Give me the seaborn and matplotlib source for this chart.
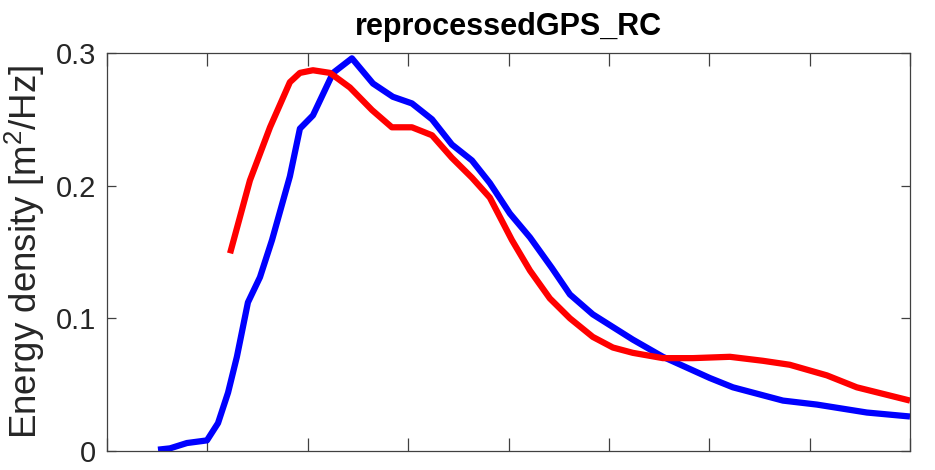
import numpy as np
import pandas as pd
import matplotlib
matplotlib.use("Agg")
import matplotlib.pyplot as plt
import seaborn as sns

# ---- data (frequency [Hz], energy density [m^2/Hz]) ----
blue_freq = [0.0254, 0.0314, 0.0398, 0.0498, 0.0553, 0.0603, 0.0647, 0.0702, 0.0762,
             0.0822, 0.0911, 0.0961, 0.1026, 0.1126, 0.1220, 0.1325, 0.1424, 0.1519,
             0.1619, 0.1718, 0.1818, 0.1907, 0.2007, 0.2107, 0.2216, 0.2306, 0.2420,
             0.2619, 0.2769, 0.3003, 0.3118, 0.3367, 0.3536, 0.3785, 0.4000]
blue_energy = [0.001, 0.002, 0.006, 0.008, 0.021, 0.044, 0.071, 0.112, 0.131,
               0.159, 0.207, 0.243, 0.253, 0.285, 0.296, 0.277, 0.267, 0.262,
               0.250, 0.231, 0.219, 0.202, 0.179, 0.161, 0.138, 0.118, 0.103,
               0.084, 0.071, 0.055, 0.048, 0.038, 0.035, 0.029, 0.026]

red_freq = [0.0613, 0.0712, 0.0812, 0.0911, 0.0961, 0.1026, 0.1111, 0.1210, 0.1320,
            0.1419, 0.1519, 0.1619, 0.1718, 0.1818, 0.1907, 0.2017, 0.2107, 0.2206,
            0.2306, 0.2420, 0.2520, 0.2619, 0.2769, 0.2918, 0.3103, 0.3267, 0.3401,
            0.3586, 0.3735, 0.4000]
red_energy = [0.149, 0.204, 0.244, 0.278, 0.285, 0.287, 0.285, 0.274, 0.257,
              0.244, 0.244, 0.238, 0.221, 0.206, 0.191, 0.159, 0.136, 0.115,
              0.100, 0.086, 0.078, 0.074, 0.070, 0.070, 0.071, 0.068, 0.065,
              0.057, 0.048, 0.038]

x_ticks = [0.0, 0.05, 0.10, 0.15, 0.20, 0.25, 0.30, 0.35, 0.40]
y_ticks = [0.0, 0.1, 0.2, 0.3]
y_tick_labels = ["0", "0.1", "0.2", "0.3"]

title_text = "reprocessedGPS_RC"
ylabel_text = r"Energy density [m$^2$/Hz]"

# ---- style ----
sns.set_style("white")
plt.rcParams["font.family"] = ["Liberation Sans", "DejaVu Sans"]
plt.rcParams["mathtext.fontset"] = "custom"
plt.rcParams["mathtext.rm"] = "Liberation Sans"
plt.rcParams["mathtext.it"] = "Liberation Sans"
plt.rcParams["text.color"] = "black"

fig = plt.figure(figsize=(9.35, 4.70), dpi=100)
ax = fig.add_axes([107 / 935, 19 / 470, (910 - 107) / 935, (451 - 53) / 470])

df_blue = pd.DataFrame({"f": blue_freq, "E": blue_energy})
df_red = pd.DataFrame({"f": red_freq, "E": red_energy})

sns.lineplot(data=df_blue, x="f", y="E", ax=ax, color="#0000ff", linewidth=4.5,
             solid_joinstyle="round", solid_capstyle="butt")
sns.lineplot(data=df_red, x="f", y="E", ax=ax, color="#ff0000", linewidth=4.5,
             solid_joinstyle="round", solid_capstyle="butt")

ax.set_xlim(0, 0.4)
ax.set_ylim(0, 0.3)
ax.set_xticks(x_ticks)
ax.set_xticklabels([])
ax.set_yticks(y_ticks)
ax.set_yticklabels(y_tick_labels, fontsize=21)
ax.set_xlabel("")
ax.set_ylabel(ylabel_text, fontsize=26.5, labelpad=6, color="#262626")

edge = "#404040"
for s in ax.spines.values():
    s.set_visible(True)
    s.set_color(edge)
    s.set_linewidth(0.9)

ax.tick_params(axis="x", direction="in", length=9.4, width=0.9, color=edge,
               top=True, bottom=True)
ax.tick_params(axis="y", direction="in", length=6.5, width=0.9, color=edge,
               left=True, right=True, pad=8, labelcolor="#262626")

ax.set_title(title_text, fontsize=22, fontweight="bold", pad=13, color="black")

fig.savefig("out.png", dpi=100)
